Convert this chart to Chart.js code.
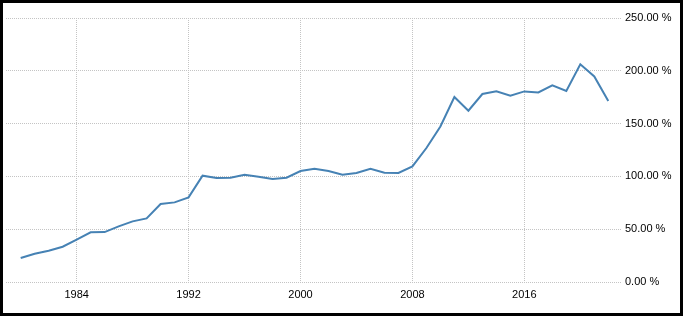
<!DOCTYPE html>
<html>
<head>
<meta charset="utf-8">
<script src="https://cdn.jsdelivr.net/npm/chart.js@4"></script>
<style>
  body { margin: 0; background: #fff; }
  #frame { position: relative; width: 683px; height: 316px; background: #000; }
  #wrap { position: absolute; left: 3px; top: 3px; width: 677px; height: 310px; background: #fff; }
</style>
</head>
<body>
<div id="frame"><div id="wrap"><canvas id="myChart"></canvas></div></div>
<script>
const years = [1980, 1981, 1982, 1983, 1984, 1985, 1986, 1987, 1988, 1989,
  1990, 1991, 1992, 1993, 1994, 1995, 1996, 1997, 1998, 1999,
  2000, 2001, 2002, 2003, 2004, 2005, 2006, 2007, 2008, 2009,
  2010, 2011, 2012, 2013, 2014, 2015, 2016, 2017, 2018, 2019,
  2020, 2021, 2022];
const debtToGdp = [22.7, 26.8, 29.6, 33.4, 40.1, 47.0, 47.3, 52.7, 57.4, 60.2,
  73.9, 75.4, 80.1, 100.7, 98.5, 98.8, 101.6, 99.7, 97.5, 98.8,
  105.1, 107.3, 105.1, 101.6, 103.2, 107.3, 103.5, 103.2, 109.5, 126.9,
  147.3, 175.2, 162.2, 178.0, 180.5, 176.4, 180.5, 179.5, 186.2, 180.9,
  206.1, 194.7, 171.4];
const xTicks = [1984, 1992, 2000, 2008, 2016];

const ctx = document.getElementById('myChart');
const gridColor = '#c4c4c4';
const tickFont = { family: 'Liberation Sans', size: 11 };

new Chart(ctx, {
  type: 'line',
  data: {
    datasets: [{
      data: years.map((y, i) => ({x: y, y: debtToGdp[i]})),
      borderColor: '#4682b4',
      borderWidth: 2,
      pointRadius: 0,
      tension: 0,
      fill: false
    }]
  },
  options: {
    responsive: true,
    maintainAspectRatio: false,
    animation: false,
    layout: { padding: { left: 3, top: 15, right: 0, bottom: 0 } },
    plugins: { legend: { display: false }, tooltip: { enabled: false } },
    scales: {
      x: {
        type: 'linear',
        min: 1978.95,
        max: 2022.98,
        afterBuildTicks: s => { s.ticks = xTicks.map(v => ({value: v})); },
        afterFit: s => { s.height = 31; },
        border: { display: false, dash: [1, 1] },
        grid: { color: gridColor, drawTicks: false },
        ticks: {
          padding: 6,
          color: '#000',
          font: tickFont,
          callback: v => String(v),
          maxRotation: 0
        }
      },
      y: {
        position: 'right',
        min: 0,
        max: 250,
        afterFit: s => { s.width = 58; },
        border: { display: false, dash: [1, 1] },
        grid: { color: gridColor, drawTicks: false },
        ticks: {
          stepSize: 50,
          padding: 3,
          color: '#000',
          font: tickFont,
          callback: v => v.toFixed(2) + ' %'
        }
      }
    }
  }
});
</script>
</body>
</html>
